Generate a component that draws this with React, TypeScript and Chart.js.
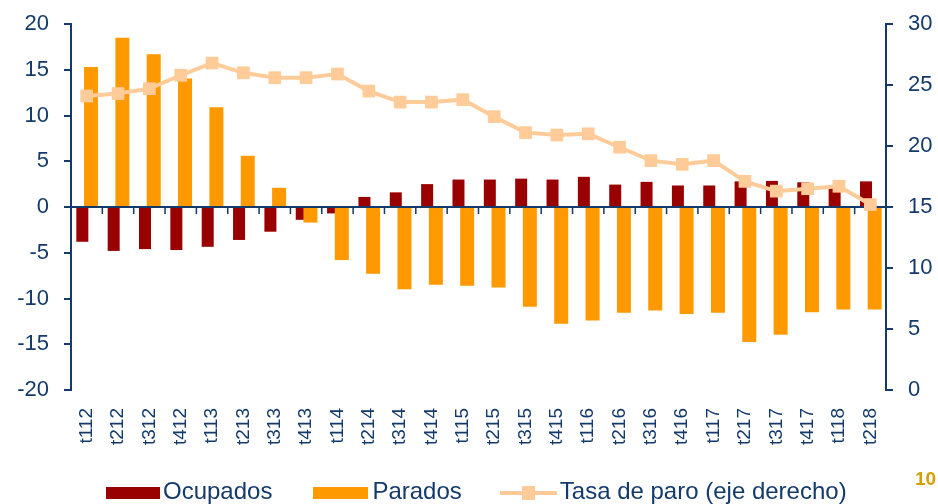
import React, { useEffect, useRef } from 'react';
import { Chart, registerables } from 'chart.js';

Chart.register(...registerables);

const categories = ['t112','t212','t312','t412','t113','t213','t313','t413','t114','t214','t314','t414','t115','t215','t315','t415','t116','t216','t316','t416','t117','t217','t317','t417','t118','t218'];
const seriesNames = ['Ocupados', 'Parados', 'Tasa de paro (eje derecho)'];
const ocupados = [-3.8,-4.8,-4.6,-4.7,-4.35,-3.6,-2.7,-1.4,-0.7,1.1,1.6,2.5,3.0,3.0,3.1,3.0,3.3,2.45,2.75,2.35,2.35,2.8,2.85,2.7,2.4,2.8];
const parados = [15.3,18.5,16.7,14.05,10.9,5.6,2.1,-1.7,-5.8,-7.3,-9.0,-8.5,-8.6,-8.8,-10.9,-12.75,-12.4,-11.55,-11.3,-11.7,-11.55,-14.75,-13.95,-11.5,-11.2,-11.2];
const tasaParo = [24.1,24.3,24.7,25.8,26.8,26.0,25.6,25.6,25.9,24.5,23.6,23.6,23.8,22.4,21.1,20.9,21.0,19.9,18.8,18.5,18.8,17.1,16.3,16.5,16.7,15.2];
const leftTicks = [-20,-15,-10,-5,0,5,10,15,20];
const rightTicks = [0,5,10,15,20,25,30];
const pageNumber = '10';

const NAVY = '#133A6A';
const RED = '#990000';
const ORANGE = '#FF9900';
const PEACH = '#FFCC99';
const FONT = '"Liberation Sans", Arial, sans-serif';

const orderPlugin = {
  id: 'barOrderAndZeroAxis',
  beforeDatasetDraw(chart: any, args: any) {
    if (args.index === 0) return false;
    if (args.index === 1) {
      chart.getDatasetMeta(0).controller.draw();
    }
    if (args.index === 2) {
      const { ctx, chartArea, scales } = chart;
      const y0 = scales.y.getPixelForValue(0);
      ctx.save();
      ctx.strokeStyle = NAVY;
      ctx.lineWidth = 2;
      ctx.beginPath();
      ctx.moveTo(chartArea.left, y0);
      ctx.lineTo(chartArea.right, y0);
      ctx.stroke();
      const n = chart.data.labels.length;
      const step = (chartArea.right - chartArea.left) / n;
      ctx.lineWidth = 1.5;
      ctx.beginPath();
      for (let i = 0; i <= n; i++) {
        const x = chartArea.left + i * step;
        ctx.moveTo(x, y0);
        ctx.lineTo(x, y0 + 7);
      }
      ctx.stroke();
      ctx.restore();
    }
    return true;
  },
};

export default function App() {
  const ref = useRef<HTMLCanvasElement | null>(null);

  useEffect(() => {
    if (!ref.current) return;
    const axisStyle = {
      grid: { drawOnChartArea: false, drawTicks: true, tickLength: 7, color: NAVY, lineWidth: 2 },
      border: { display: true, color: NAVY, width: 2 },
    };
    const fitY = (w: number) => (s: any) => {
      s.width = w;
      s.paddingTop = 0;
      s.paddingBottom = 0;
    };
    const chart = new Chart(ref.current, {
      type: 'bar',
      data: {
        labels: categories,
        datasets: [
          {
            type: 'bar',
            label: seriesNames[0],
            data: ocupados,
            backgroundColor: RED,
            categoryPercentage: 0.555,
            barPercentage: 1.38,
            yAxisID: 'y',
            order: 0,
          },
          {
            type: 'bar',
            label: seriesNames[1],
            data: parados,
            backgroundColor: ORANGE,
            categoryPercentage: 0.555,
            barPercentage: 1.61,
            yAxisID: 'y',
            order: 0,
          },
          {
            type: 'line',
            label: seriesNames[2],
            data: tasaParo,
            borderColor: PEACH,
            backgroundColor: PEACH,
            borderWidth: 4,
            pointStyle: 'rect',
            pointRadius: 9,
            pointBackgroundColor: PEACH,
            pointBorderColor: PEACH,
            pointBorderWidth: 0,
            tension: 0,
            yAxisID: 'y1',
            order: -1,
          },
        ],
      } as any,
      options: {
        animation: false,
        responsive: false,
        layout: { padding: { top: 24, left: 0, right: 0, bottom: 0 } },
        plugins: { legend: { display: false }, tooltip: { enabled: false } },
        scales: {
          x: {
            type: 'category',
            grid: { display: false, drawTicks: false },
            border: { display: false },
            ticks: {
              color: NAVY,
              font: { family: FONT, size: 19 },
              minRotation: 90,
              maxRotation: 90,
              padding: 18,
              autoSkip: false,
            },
            afterFit: (s: any) => { s.height = 114; s.paddingLeft = 0; s.paddingRight = 0; },
          },
          y: {
            position: 'left',
            min: -20,
            max: 20,
            ...axisStyle,
            ticks: { color: NAVY, font: { family: FONT, size: 22 }, padding: 15 },
            afterBuildTicks: (s: any) => { s.ticks = leftTicks.map((v) => ({ value: v })); },
            afterFit: fitY(71),
          },
          y1: {
            position: 'right',
            min: 0,
            max: 30,
            ...axisStyle,
            ticks: { color: NAVY, font: { family: FONT, size: 22 }, padding: 15 },
            afterBuildTicks: (s: any) => { s.ticks = rightTicks.map((v) => ({ value: v })); },
            afterFit: fitY(52),
          },
        },
      } as any,
      plugins: [orderPlugin as any],
    });
    return () => chart.destroy();
  }, []);

  return (
    <div style={{ position: 'absolute', left: 0, top: 0, width: 938, height: 504, overflow: 'hidden', background: '#fff' }}>
      <canvas ref={ref} width={938} height={504} style={{ display: 'block', width: 938, height: 504 }} />
      <div
        style={{
          position: 'absolute', left: 106, top: 479, height: 24, display: 'flex', alignItems: 'center',
          fontFamily: FONT, fontSize: 24, lineHeight: '24px', color: NAVY, whiteSpace: 'nowrap',
        }}
      >
        <span style={{ display: 'inline-block', width: 54, height: 12, background: RED, marginRight: 3, marginTop: 3 }} />
        <span style={{ marginRight: 41 }}>{seriesNames[0]}</span>
        <span style={{ display: 'inline-block', width: 55, height: 12, background: ORANGE, marginRight: 4, marginTop: 3 }} />
        <span style={{ marginRight: 38 }}>{seriesNames[1]}</span>
        <span style={{ position: 'relative', display: 'inline-block', width: 57, height: 14, marginRight: 3, marginTop: 3 }}>
          <span style={{ position: 'absolute', left: 0, top: 5, width: 57, height: 4, background: PEACH }} />
          <span style={{ position: 'absolute', left: 22, top: 0, width: 13, height: 14, background: PEACH }} />
        </span>
        <span>{seriesNames[2]}</span>
      </div>
      <div
        style={{
          position: 'absolute', left: 915, top: 469, fontFamily: FONT, fontWeight: 'bold', fontSize: 19,
          lineHeight: '19px', color: '#D4A000', whiteSpace: 'nowrap',
        }}
      >
        {pageNumber}
      </div>
    </div>
  );
}
